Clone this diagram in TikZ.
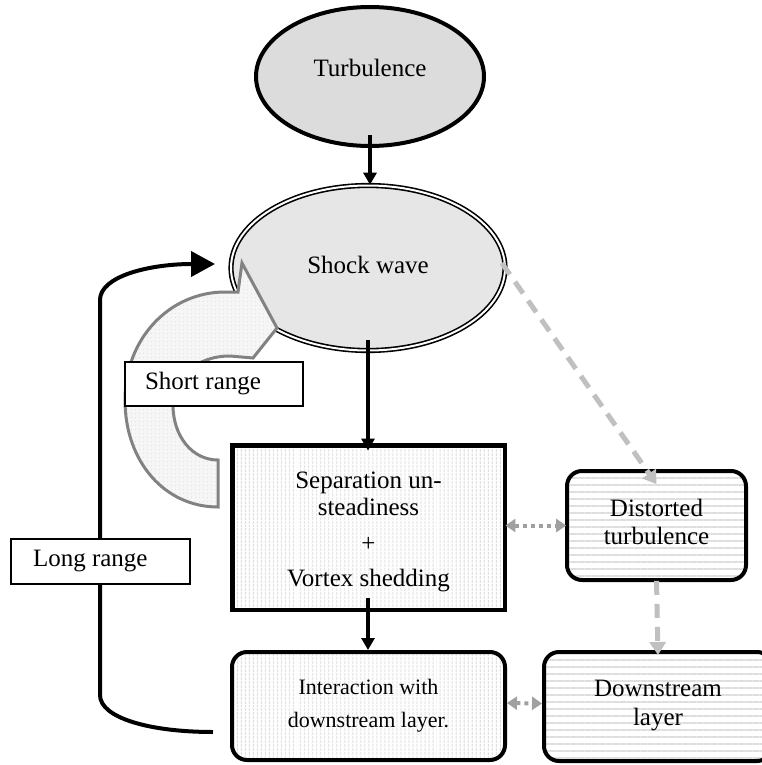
\documentclass[tikz,border=0pt]{standalone}
\usepackage{fontspec}
\setmainfont{Liberation Serif}
\usetikzlibrary{arrows.meta,patterns.meta,shapes.geometric}
\definecolor{turbgray}{RGB}{220,220,220}
\definecolor{shockgray}{RGB}{230,230,230}
\definecolor{stripegray}{RGB}{222,222,222}
\definecolor{dotgray}{RGB}{160,160,160}
\definecolor{dashgray}{RGB}{192,192,192}
\definecolor{cgray}{RGB}{130,130,130}
\definecolor{cfill}{RGB}{246,246,246}
\begin{document}
\begin{tikzpicture}[x=1pt,y=-1pt,
  font=\fontsize{25}{28}\selectfont,
  ellA/.style={ellipse, draw=black, line width=4pt, fill=turbgray, minimum width=228pt, minimum height=139pt, inner sep=0pt},
  ellB/.style={ellipse, draw=black, line width=1.6pt, double=white, double distance=2pt, fill=shockgray, minimum width=274pt, minimum height=165pt, inner sep=0pt},
  vstripes/.style={pattern={Lines[angle=90,distance=4pt,line width=1.3pt]}, pattern color=stripegray},
  hstripes/.style={pattern={Lines[angle=0,distance=7pt,line width=1.6pt]}, pattern color=stripegray},
  sqbox/.style={draw=black, line width=4.5pt, inner sep=0pt},
  rbox/.style={draw=black, line width=4pt, rounded corners=15pt, inner sep=0pt},
  txt/.style={align=center, inner sep=0pt},
  lbl/.style={draw=black, line width=1.5pt, fill=white, inner ysep=0pt},
  blk/.style={line width=3.5pt, -{Triangle[length=12pt,width=13pt]}},
  dotarr/.style={draw=dotgray, line width=4pt, dash pattern=on 4pt off 4pt, {Triangle[length=10pt,width=13pt]}-{Triangle[length=10pt,width=13pt]}, color=dotgray},
  dasharr/.style={draw=dashgray, line width=5pt, dash pattern=on 14pt off 9pt, -{Triangle[length=13pt,width=16pt]}, color=dashgray},
  carrow/.style={draw=cgray, line width=3pt, line join=miter, preaction={fill=cfill}, pattern={Dots[distance=4pt,radius=0.6pt]}, pattern color=gray!30}
]
\useasboundingbox[fill=white] (0,0) rectangle (761,765);

% main nodes
\node[ellA] (turb) at (370,76.5) {\raisebox{17pt}{Turbulence}};
\node[ellB] (shock) at (368,268) {\raisebox{7pt}{Shock wave}};
\node[sqbox, vstripes, minimum width=272.5pt, minimum height=164.5pt] (sep) at (368.5,527.5) {};
\node[txt, font=\fontsize{25}{27}\selectfont] (septxt) at ([yshift=-4pt]sep.center)
  {Separation un-\\steadiness\\[9pt]+\\[8pt]Vortex shedding};
\node[rbox, vstripes, minimum width=273pt, minimum height=108pt] (inter) at (368.5,706) {};
\node[txt, font=\fontsize{22}{33}\selectfont] (intertxt) at (inter.center) {Interaction with\\downstream layer.};
\node[rbox, hstripes, minimum width=179pt, minimum height=109pt] (dist) at (656.5,525.5) {};
\node[txt, font=\fontsize{25}{28}\selectfont] (disttxt) at ([yshift=4pt]dist.center) {Distorted\\turbulence};
\node[rbox, hstripes, minimum width=228pt, minimum height=109pt] (down) at (658,706.5) {};
\node[txt, font=\fontsize{25}{29}\selectfont] (downtxt) at ([yshift=1pt]down.center) {Downstream\\layer};

% short-range curved block arrow
\draw[carrow] (218,507) .. controls (165,507) and (125,462) .. (125,400)
  .. controls (125,338) and (170,292) .. (225,292) -- (238,292) -- (242,263)
  -- (277,328) -- (253,358) -- (230,356)
  .. controls (196,356) and (173,378) .. (173,405)
  .. controls (173,436) and (192,460) .. (218,460) -- cycle;
\node[lbl, inner xsep=20pt, minimum height=44pt] (sr) at (214,384) {\makebox[138pt][l]{Short range}};

% long-range loop
\coordinate (lrs) at (213,732);
\coordinate (lre) at (215,264);
\draw[line width=4pt, -{Triangle[length=24pt,width=25pt]}] (lrs) .. controls (150,732) and (100,718) .. (100,695)
  -- (100,300) .. controls (100,276) and (150,264) .. (lre);
\node[lbl, inner xsep=22pt, minimum height=45pt] (lr) at (100.5,561.5) {\makebox[135pt][l]{Long range}};

% black arrows
\draw[blk] ([yshift=13pt]turb.south) -- (turb.south |- shock.north);
\draw[blk] ([yshift=11pt]shock.south) -- ([yshift=-6pt]shock.south |- sep.north);
\draw[blk] ([yshift=12pt]shock.south |- sep.south) -- (shock.south |- inter.north);

% gray dotted double arrows
\draw[dotarr] (sep.east |- dist.west) -- (dist.west);
\draw[dotarr] ([yshift=3pt]inter.east) -- ([yshift=3pt]down.west);

% gray dashed arrows
\draw[dasharr] ([shift={(-4,-5)}]shock.east) -- ([yshift=-14pt]dist.north);
\draw[dasharr] (dist.south) -- ([yshift=-5pt]down.north);
\end{tikzpicture}
\end{document}
